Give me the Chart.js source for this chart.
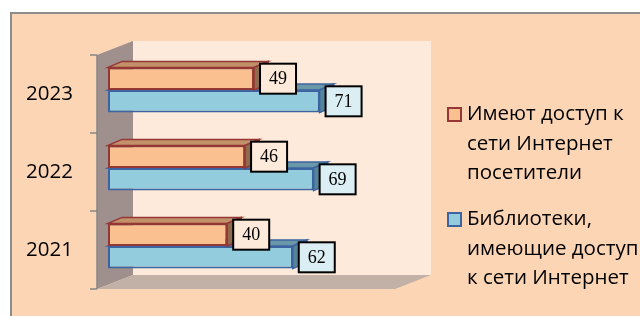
<!DOCTYPE html>
<html>
<head>
<meta charset="utf-8">
<script src="https://cdn.jsdelivr.net/npm/chart.js@4.4.1/dist/chart.umd.min.js"></script>
<style>
html, body { margin: 0; padding: 0; background: #fff; width: 640px; height: 316px; overflow: hidden; position: relative; }
#frame { position: absolute; left: 10px; top: 12px; width: 640px; height: 320px; background: #FCD5B5; border-left: 2px solid #8c8c8c; border-top: 2px solid #8c8c8c; }
#c { position: absolute; left: 0; top: 0; }
.leg { position: absolute; left: 447px; font-family: "Open Sans"; font-size: 20.5px; line-height: 29.5px; color: #000; white-space: pre; }
.leg i { position: absolute; left: 0; top: 9px; width: 11px; height: 11px; border: 2px solid; }
.leg span { display: block; margin-left: 20px; }
</style>
</head>
<body>
<div id="frame"></div>
<canvas id="c" width="640" height="316"></canvas>
<div id="legend"></div>
<script>
const categories = ['2023', '2022', '2021'];
const visitors = [49, 46, 40];
const libraries = [71, 69, 62];
const seriesNames = ['Имеют доступ к\nсети Интернет\nпосетители', 'Библиотеки,\nимеющие доступ\nк сети Интернет'];
const axisMin = 0, axisMax = 100;

// bar depth and wall offsets (front / back plane relative to bar plane)
const DX = 14, DY = -6;
const FX = -11, FY = 4, BX = 25, BY = -10;

function poly(ctx, pts, fill, stroke) {
    ctx.beginPath();
    pts.forEach((p, i) => i ? ctx.lineTo(p[0], p[1]) : ctx.moveTo(p[0], p[1]));
    ctx.closePath();
    ctx.fillStyle = fill;
    ctx.fill();
    if (stroke) {
        ctx.strokeStyle = stroke;
        ctx.lineWidth = 1.5;
        ctx.stroke();
    }
}

const depth = {
    id: 'depth',
    beforeDatasetsDraw(chart) {
        const {ctx, chartArea: a, scales: {x}} = chart;
        const l = x.getPixelForValue(axisMin), r = x.getPixelForValue(axisMax);
        const fl = l + FX, ft = a.top + FY, fb = a.bottom + FY, fr = r + FX;
        const bl = l + BX, bt = a.top + BY, bb = a.bottom + BY, br = r + BX;
        ctx.save();
        ctx.fillStyle = '#FDEADB';
        ctx.fillRect(bl, bt, br - bl, bb - bt);
        poly(ctx, [[fl, ft], [bl, bt], [bl, bb], [fl, fb]], '#9F8F8D');
        poly(ctx, [[fl, fb], [bl, bb], [br, bb], [fr, fb]], '#C1B1A6');
        ctx.strokeStyle = '#868686';
        ctx.lineWidth = 1.5;
        ctx.beginPath();
        ctx.moveTo(fl, ft);
        ctx.lineTo(fl, fb);
        const n = categories.length;
        for (let i = 0; i <= n; i++) {
            const yy = ft + (fb - ft) * i / n;
            ctx.moveTo(fl - 7, yy);
            ctx.lineTo(fl, yy);
        }
        ctx.stroke();
        ctx.restore();
    },
    beforeDatasetDraw(chart, args) {
        const ctx = chart.ctx;
        const ds = chart.data.datasets[args.index];
        ctx.save();
        args.meta.data.forEach(bar => {
            const p = bar.getProps(['x', 'y', 'base', 'height'], true);
            const t = p.y - p.height / 2, b = p.y + p.height / 2;
            poly(ctx, [[p.base, t], [p.base + DX, t + DY], [p.x + DX, t + DY], [p.x, t]], ds.topColor, ds.borderColor);
            poly(ctx, [[p.x, t], [p.x + DX, t + DY], [p.x + DX, b + DY], [p.x, b]], ds.sideColor, ds.borderColor);
        });
        ctx.restore();
    },
    afterDatasetsDraw(chart) {
        const ctx = chart.ctx;
        ctx.save();
        chart.data.datasets.forEach((ds, di) => {
            chart.getDatasetMeta(di).data.forEach((bar, i) => {
                const p = bar.getProps(['x', 'y'], true);
                const bx = p.x + 6, by = p.y - 15;
                ctx.fillStyle = ds.labelFill;
                ctx.fillRect(bx, by, 36, 30);
                ctx.strokeStyle = '#000';
                ctx.lineWidth = 2;
                ctx.strokeRect(bx, by, 36, 30);
                ctx.fillStyle = '#000';
                ctx.font = '18px "Liberation Serif"';
                ctx.textAlign = 'center';
                ctx.textBaseline = 'middle';
                ctx.fillText(String(ds.data[i]), bx + 18, p.y + 1);
            });
        });
        ctx.restore();
    }
};

const chart = new Chart(document.getElementById('c'), {
    type: 'bar',
    data: {
        labels: categories,
        datasets: [{
            label: seriesNames[0],
            data: visitors,
            backgroundColor: '#FAC090',
            borderColor: '#953735',
            borderWidth: 2,
            borderSkipped: false,
            topColor: '#C29069',
            sideColor: '#8E6A4E',
            labelFill: '#FDEADB'
        }, {
            label: seriesNames[1],
            data: libraries,
            backgroundColor: '#93CDDD',
            borderColor: '#3B64A0',
            borderWidth: 2,
            borderSkipped: false,
            topColor: '#6A98A8',
            sideColor: '#56849A',
            labelFill: '#DBEEF4'
        }]
    },
    options: {
        indexAxis: 'y',
        responsive: false,
        animation: false,
        categoryPercentage: 0.58,
        barPercentage: 1,
        layout: {padding: {left: 10, right: 234, top: 51, bottom: 31}},
        plugins: {legend: {display: false}, tooltip: {enabled: false}},
        scales: {
            x: {display: false, min: axisMin, max: axisMax},
            y: {
                grid: {display: false, drawTicks: false},
                border: {display: false},
                ticks: {padding: 35, labelOffset: 4, color: '#000', font: {family: 'Open Sans', size: 20.5}},
                afterFit(s) {
                    s.width = 98;
                    s.paddingTop = 0;
                    s.paddingBottom = 0;
                }
            }
        }
    },
    plugins: [depth]
});

// legend
const legendTops = [98, 203];
const legend = document.getElementById('legend');
chart.data.datasets.forEach((ds, i) => {
    const d = document.createElement('div');
    d.className = 'leg';
    d.style.top = legendTops[i] + 'px';
    const box = document.createElement('i');
    box.style.background = ds.backgroundColor;
    box.style.borderColor = ds.borderColor;
    const s = document.createElement('span');
    s.textContent = ds.label;
    d.appendChild(box);
    d.appendChild(s);
    legend.appendChild(d);
});
</script>
</body>
</html>
